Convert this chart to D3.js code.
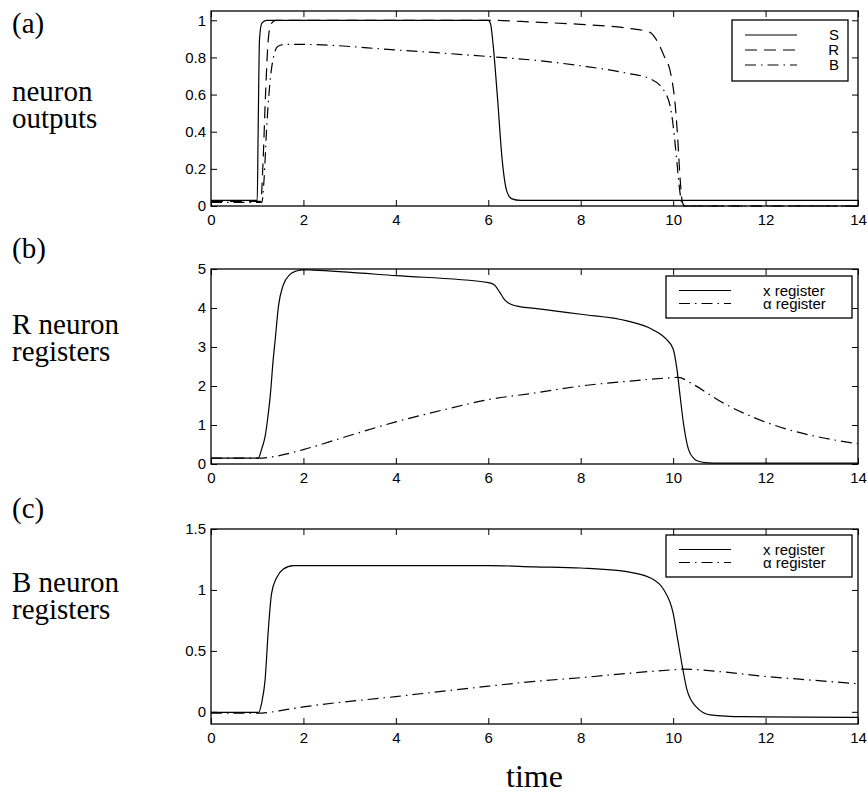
<!DOCTYPE html>
<html>
<head>
<meta charset="utf-8">
<script src="https://cdn.jsdelivr.net/npm/d3@7"></script>
<style>
    body { margin: 0; background: #fff; }
    .tick text { font-family: "Liberation Sans", Arimo, Arial, Helvetica, sans-serif; font-size: 15px; fill: #000; }
    .tick line { stroke: #000; stroke-width: 1; }
    .side-label { font-family: "Liberation Serif", Tinos, "Times New Roman", "DejaVu Serif", serif; font-size: 29px; fill: #000; }
    .legend-text { font-family: "Liberation Sans", Arimo, Arial, Helvetica, sans-serif; font-size: 15px; fill: #000; }
</style>
</head>
<body>
<svg id="chart" width="868" height="795"></svg>
<script>
// time axis
const timeTicks = [0, 2, 4, 6, 8, 10, 12, 14];

// (a) neuron outputs: [time, value]
const outS = [[0, 0.03], [1.0, 0.03], [1.02, 0.4], [1.05, 0.9], [1.1, 0.985], [1.2, 1.0], [6.0, 1.0], [6.05, 0.98],
    [6.1, 0.88], [6.2, 0.58], [6.3, 0.25], [6.4, 0.08], [6.5, 0.04], [6.7, 0.03], [14, 0.03]];
const outR = [[0, 0.025], [1.08, 0.025], [1.12, 0.2], [1.18, 0.6], [1.24, 0.9], [1.3, 0.98], [1.4, 1.0], [6, 1.0],
    [7, 0.99], [8, 0.978], [9, 0.958], [9.5, 0.935], [9.65, 0.89], [9.8, 0.81], [9.95, 0.71], [10.05, 0.53],
    [10.1, 0.36], [10.15, 0.15], [10.2, 0.02], [10.25, 0], [14, 0]];
const outB = [[0, 0.02], [1.1, 0.02], [1.15, 0.15], [1.2, 0.4], [1.27, 0.65], [1.35, 0.8], [1.45, 0.86], [1.6, 0.87],
    [2, 0.87], [4, 0.84], [6, 0.805], [7, 0.785], [8, 0.755], [9, 0.715], [9.5, 0.685], [9.83, 0.61], [9.97, 0.49],
    [10.08, 0.24], [10.13, 0.11], [10.21, 0.0], [10.25, 0], [14, 0]];
const outYTicks = [0, 0.2, 0.4, 0.6, 0.8, 1];

// (b) R neuron registers
const rX = [[0, 0.15], [1.02, 0.15], [1.1, 0.4], [1.17, 0.7], [1.23, 1.2], [1.29, 1.85], [1.34, 2.6], [1.39, 3.2],
    [1.46, 4.05], [1.56, 4.58], [1.7, 4.85], [1.85, 4.95], [2.0, 4.98], [2.2, 4.97], [4, 4.83], [6, 4.65],
    [6.12, 4.6], [6.25, 4.4], [6.36, 4.2], [6.5, 4.09], [6.7, 4.03], [7, 3.99], [8, 3.84], [9, 3.67], [9.55, 3.45],
    [9.85, 3.2], [10.0, 2.95], [10.08, 2.45], [10.15, 1.75], [10.22, 1.07], [10.33, 0.38], [10.45, 0.14],
    [10.55, 0.07], [10.75, 0.03], [11, 0.02], [14, 0.02]];
const rAlpha = [[0, 0.15], [1.05, 0.15], [1.3, 0.18], [1.5, 0.22], [2, 0.37], [3, 0.73], [4, 1.08], [5, 1.38],
    [6, 1.65], [7, 1.82], [8, 2.0], [9, 2.12], [9.8, 2.2], [10.1, 2.22], [10.45, 2.03], [11, 1.62], [11.75, 1.19],
    [12.5, 0.88], [13.2, 0.68], [14, 0.52]];
const rYTicks = [0, 1, 2, 3, 4, 5];

// (c) B neuron registers
const bX = [[0, -0.005], [1.03, -0.005], [1.1, 0.08], [1.17, 0.26], [1.24, 0.67], [1.31, 0.97], [1.42, 1.1],
    [1.56, 1.17], [1.78, 1.2], [2, 1.2], [6, 1.2], [7, 1.19], [8, 1.18], [9, 1.15], [9.5, 1.1], [9.8, 1.0],
    [10.0, 0.81], [10.1, 0.59], [10.2, 0.37], [10.3, 0.18], [10.5, 0.04], [10.8, -0.025], [11.5, -0.04], [14, -0.045]];
const bAlpha = [[0, -0.01], [1.1, -0.01], [1.5, 0.01], [2, 0.04], [4, 0.125], [6, 0.21], [7, 0.25], [8, 0.28],
    [9, 0.315], [10, 0.345], [10.2, 0.35], [11, 0.33], [12, 0.29], [13, 0.26], [14, 0.23]];
const bYTicks = [0, 0.5, 1, 1.5];

const DASHED = '12,7';
const DASHDOT = '11,5,1.5,5';

const svg = d3.select('#chart');
const left = 211, right = 858, plotH = 195;
const x = d3.scaleLinear().domain([0, 14]).range([left, right]);
const fmt = d3.format('~g');

function drawPanel({ top, yDomain, yTicks, series }) {
    const y = d3.scaleLinear().domain(yDomain).range([top + plotH, top]);
    const g = svg.append('g');

    g.append('g')
        .attr('transform', `translate(0,${top + plotH})`)
        .call(d3.axisBottom(x).tickValues(timeTicks).tickFormat(fmt).tickSize(-6).tickSizeOuter(0).tickPadding(8));
    g.append('g')
        .attr('transform', `translate(0,${top})`)
        .call(d3.axisTop(x).tickValues(timeTicks).tickSize(-6).tickSizeOuter(0).tickFormat(''));
    g.append('g')
        .attr('transform', `translate(${left},0)`)
        .call(d3.axisLeft(y).tickValues(yTicks).tickFormat(fmt).tickSize(-6).tickSizeOuter(0).tickPadding(5));
    g.append('g')
        .attr('transform', `translate(${right},0)`)
        .call(d3.axisRight(y).tickValues(yTicks).tickSize(-6).tickSizeOuter(0).tickFormat(''));
    g.selectAll('.domain').remove();

    g.append('rect')
        .attr('x', left)
        .attr('y', top)
        .attr('width', right - left)
        .attr('height', plotH)
        .style('fill', 'none')
        .style('stroke', '#000')
        .style('stroke-width', 1.3);

    let line = d3.line()
        .x((d) => x(d[0]))
        .y((d) => y(d[1]))
        .curve(d3.curveMonotoneX);

    series.forEach((s) => {
        g.append('path')
            .datum(s.data)
            .attr('d', line)
            .style('fill', 'none')
            .style('stroke', '#000')
            .style('stroke-width', 1.2)
            .style('stroke-dasharray', s.dash || null);
    });
    return g;
}

function drawLegend({ box, entries, sampleX, textX, anchor }) {
    const g = svg.append('g');
    g.append('rect')
        .attr('x', box[0]).attr('y', box[1])
        .attr('width', box[2]).attr('height', box[3])
        .style('fill', '#fff')
        .style('stroke', '#000')
        .style('stroke-width', 1.3);
    entries.forEach((e) => {
        g.append('line')
            .attr('x1', sampleX[0]).attr('x2', sampleX[1])
            .attr('y1', e.y).attr('y2', e.y)
            .style('stroke', '#000')
            .style('stroke-width', 1.2)
            .style('stroke-dasharray', e.dash || null);
        g.append('text')
            .attr('class', 'legend-text')
            .attr('x', textX)
            .attr('y', e.y)
            .attr('dy', '0.35em')
            .attr('text-anchor', anchor)
            .text(e.label);
    });
}

drawPanel({
    top: 11, yDomain: [0, 1.05], yTicks: outYTicks,
    series: [{ data: outS }, { data: outR, dash: DASHED }, { data: outB, dash: DASHDOT }]
});
drawPanel({
    top: 269, yDomain: [0, 5], yTicks: rYTicks,
    series: [{ data: rX }, { data: rAlpha, dash: DASHDOT }]
});
drawPanel({
    top: 529, yDomain: [-0.1, 1.5], yTicks: bYTicks,
    series: [{ data: bX }, { data: bAlpha, dash: DASHDOT }]
});

drawLegend({
    box: [732, 20, 116, 61], sampleX: [745, 797], textX: 839, anchor: 'end',
    entries: [{ label: 'S', y: 35 }, { label: 'R', y: 50, dash: DASHED }, { label: 'B', y: 65, dash: DASHDOT }]
});
drawLegend({
    box: [666, 276, 186, 42], sampleX: [679, 731], textX: 763, anchor: 'start',
    entries: [{ label: 'x register', y: 290.5 }, { label: 'α register', y: 303.5, dash: DASHDOT }]
});
drawLegend({
    box: [666, 535, 186, 42], sampleX: [679, 731], textX: 763, anchor: 'start',
    entries: [{ label: 'x register', y: 549.5 }, { label: 'α register', y: 562.5, dash: DASHDOT }]
});

// row captions on the left
const captions = [
    { text: '(a)', y: 33 }, { text: 'neuron', y: 101 }, { text: 'outputs', y: 128 },
    { text: '(b)', y: 258 }, { text: 'R neuron', y: 334 }, { text: 'registers', y: 361 },
    { text: '(c)', y: 518 }, { text: 'B neuron', y: 592 }, { text: 'registers', y: 619 }
];
svg.selectAll('.side-label')
    .data(captions)
    .enter()
    .append('text')
    .attr('class', 'side-label')
    .attr('x', 12)
    .attr('y', (d) => d.y)
    .text((d) => d.text);

svg.append('text')
    .attr('class', 'side-label')
    .attr('x', (left + right) / 2)
    .attr('y', 787)
    .attr('text-anchor', 'middle')
    .style('font-size', '32px')
    .text('time');
</script>
</body>
</html>
